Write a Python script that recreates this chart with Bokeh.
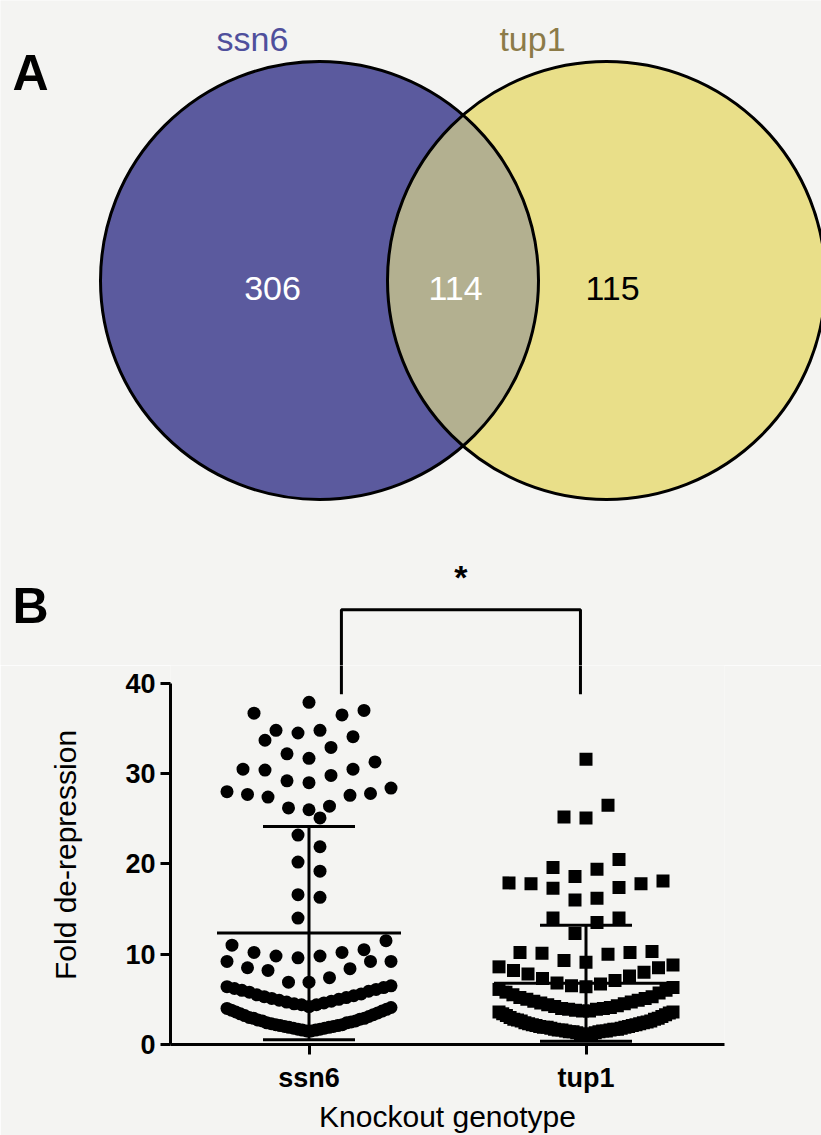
import numpy as np
from bokeh.plotting import figure
from bokeh.models import Range1d, Label, FixedTicker
from bokeh.embed import file_html
from bokeh.resources import INLINE

BG = "#f4f4f2"
FONT = "Liberation Sans"

# ---------------- data ----------------
venn_sets = ["ssn6", "tup1"]
venn_only_ssn6 = 306
venn_shared = 114
venn_only_tup1 = 115

genotypes = ["ssn6", "tup1"]
ssn6_fold = [37.9, 37.0, 36.7, 36.5, 34.8, 34.8, 34.5, 34.1, 33.7, 32.9, 32.2, 31.7,
             31.3, 30.5, 30.5, 30.4, 29.8, 29.2, 29.0, 28.4, 28.0, 27.8, 27.7, 27.6,
             27.4, 26.4, 26.2, 26.0, 25.1,
             23.2, 21.9, 20.2, 19.2, 16.6, 16.3, 14.0,
             11.5, 11.0, 10.5, 10.2, 10.2, 9.8, 9.8, 9.6, 9.2, 9.2, 9.2, 8.5, 8.4, 8.2,
             7.4, 6.9, 6.9,
             6.5, 6.4, 6.3, 6.2, 6.1, 6.0, 5.9, 5.8, 5.6, 5.5, 5.4, 5.3, 5.2, 5.1, 5.0,
             4.9, 4.8, 4.7, 4.6, 4.5, 4.4, 4.4,
             4.2, 4.1, 4.0, 3.9, 3.8, 3.7, 3.6, 3.5, 3.4, 3.3, 3.2, 3.1, 3.0, 2.9, 2.9,
             2.8, 2.7, 2.6, 2.6, 2.5, 2.4, 2.4, 2.3, 2.2, 2.2, 2.1, 2.1, 2.0, 2.0, 1.9,
             1.9, 1.8, 1.8, 1.7, 1.7, 1.6, 1.6, 1.5, 1.5]
tup1_fold = [31.6, 26.5, 25.2, 25.1, 20.5, 19.6, 19.4, 18.6, 18.1, 17.9, 17.8, 17.8,
             17.4, 17.3, 16.2, 16.0, 14.0, 14.0, 13.5, 12.3,
             10.3, 10.2, 10.2, 10.1, 10.0, 9.3, 9.1, 8.8, 8.6, 8.5, 8.2, 8.0,
             7.8, 7.6, 7.3, 7.1,
             6.8, 6.7, 6.5, 6.4, 6.3, 6.1, 6.0, 5.8, 5.7, 5.5, 5.3, 5.2,
             5.1, 5.0, 4.9, 4.8, 4.7, 4.6, 4.5, 4.4, 4.3, 4.2, 4.1, 4.0, 4.0, 3.9, 3.9,
             3.8, 3.7, 3.7, 3.6, 3.6,
             3.5, 3.4, 3.3, 3.2, 3.1, 3.0, 2.9, 2.8, 2.8, 2.7, 2.6, 2.6, 2.5, 2.4, 2.4,
             2.3, 2.3, 2.2, 2.2, 2.1, 2.1, 2.0, 2.0, 1.9, 1.9, 1.9, 1.8, 1.8, 1.7, 1.7,
             1.7, 1.6, 1.6, 1.6, 1.5, 1.5, 1.5, 1.4, 1.4, 1.4, 1.3, 1.3, 1.2, 1.2, 1.1,
             1.1]

# ---------------- page geometry (pixels) ----------------
TOP_H = 665                 # height of the upper (Venn) canvas
X0_PX, PX_PER_X = 170.0, 277.0   # scatter frame left edge and px per category step
Y0_PX, PX_PER_Y = 1047.0, 9.1    # scatter y=0 position and px per unit


def page_x(xd):
    return X0_PX + (xd - 0.5) * PX_PER_X


def page_y(yd):
    return Y0_PX - yd * PX_PER_Y


# ---------------- panel A : Venn ----------------
p1 = figure(width=821, height=TOP_H, x_range=Range1d(0, 821), y_range=Range1d(TOP_H, 0),
            toolbar_location=None, output_backend="svg", min_border=0)
p1.axis.visible = False
p1.grid.visible = False
p1.outline_line_color = None
p1.background_fill_color = BG
p1.border_fill_color = BG

R = 219
c1 = (319, 280)
c2 = (606, 280)
BLUE = "#5b5a9e"
YELLOW = "#e9df89"
LENS = "#b3b090"

p1.circle(x=[c1[0]], y=[c1[1]], radius=R, fill_color=BLUE, line_color=None)
p1.circle(x=[c2[0]], y=[c2[1]], radius=R, fill_color=YELLOW, line_color=None)
d = c2[0] - c1[0]
a = np.arccos((d / 2) / R)
t1 = np.linspace(-a, a, 120)
t2 = np.linspace(np.pi - a, np.pi + a, 120)
lx = np.concatenate([c1[0] + R * np.cos(t1), c2[0] + R * np.cos(t2)])
ly = np.concatenate([c1[1] + R * np.sin(t1), c2[1] + R * np.sin(t2)])
p1.patch(lx, ly, fill_color=LENS, line_color=None)
p1.circle(x=[c1[0], c2[0]], y=[c1[1], c2[1]], radius=R, fill_color=None,
          line_color="black", line_width=3)


def lab(p, x, y, text, size, color="black", bold=False):
    p.add_layout(Label(x=x, y=y, text=text, text_font=FONT, text_font_size=size,
                       text_color=color, text_font_style="bold" if bold else "normal",
                       text_align="center", text_baseline="middle"))


lab(p1, 30, 72, "A", "50px", bold=True)
lab(p1, 252, 38, venn_sets[0], "34px", color="#4f4f9c")
lab(p1, 532, 38, venn_sets[1], "34px", color="#8c7b48")
lab(p1, 272, 288, str(venn_only_ssn6), "34px", color="white")
lab(p1, 455, 288, str(venn_shared), "34px", color="white")
lab(p1, 612, 288, str(venn_only_tup1), "34px", color="black")

# panel B letter, significance star and bracket (upper part)
BR_L, BR_R = 1.117, 1.98        # bracket legs, in category units
BR_TOP, BR_FOOT = 48.1, 38.8    # bracket heights, in value units
lab(p1, 30, 605, "B", "50px", bold=True)
lab(p1, (page_x(BR_L) + page_x(BR_R)) / 2, 576, "*", "34px", bold=True)
p1.line(x=[page_x(BR_L), page_x(BR_L), page_x(BR_R), page_x(BR_R)],
        y=[TOP_H + 2, page_y(BR_TOP), page_y(BR_TOP), TOP_H + 2],
        line_color="black", line_width=3)

# ---------------- panel B : scatter ----------------
BOT_H = 1135 - TOP_H
YMAX = (Y0_PX - TOP_H) / PX_PER_Y
p2 = figure(width=821, height=BOT_H, x_range=Range1d(0.5, 2.5), y_range=Range1d(0, YMAX),
            toolbar_location=None, output_backend="svg",
            min_border_left=170, min_border_right=97, min_border_top=0,
            min_border_bottom=BOT_H - int(round(Y0_PX - TOP_H)))
p2.grid.visible = False
p2.outline_line_color = None
p2.background_fill_color = BG
p2.border_fill_color = BG

for ax in (p2.xaxis[0], p2.yaxis[0]):
    ax.axis_line_width = 3
    ax.major_tick_line_width = 3
    ax.major_tick_out = 10
    ax.major_tick_in = 0
    ax.minor_tick_out = 0
    ax.minor_tick_in = 0
    ax.major_label_text_font = FONT
    ax.major_label_text_font_style = "bold"
    ax.major_label_text_font_size = "27px"
    ax.major_label_text_color = "black"
    ax.axis_label_text_font = FONT
    ax.axis_label_text_font_style = "normal"
    ax.axis_label_text_font_size = "30px"
    ax.axis_label_text_color = "black"

p2.yaxis.bounds = (0, 40)
p2.yaxis.ticker = FixedTicker(ticks=[0, 10, 20, 30, 40])
p2.yaxis.axis_label = "Fold de-repression"
p2.yaxis.axis_label_standoff = 40
p2.yaxis.major_label_standoff = 5
p2.xaxis.ticker = FixedTicker(ticks=[i + 1 for i in range(len(genotypes))])
p2.xaxis.major_label_overrides = {i + 1: g for i, g in enumerate(genotypes)}
p2.xaxis.axis_label = "Knockout genotype"
p2.xaxis.axis_label_standoff = 4
p2.xaxis.major_label_standoff = 8


def swarm(vals, center, row_h=2.6, step_px=22.0, max_half_px=82.0):
    v = sorted(vals)
    rows, cur, start = [], [v[0]], v[0]
    for val in v[1:]:
        if val - start < row_h:
            cur.append(val)
        else:
            rows.append(cur)
            cur, start = [val], val
    rows.append(cur)
    xs, ys = [], []
    for row in rows:
        n = len(row)
        step = min(step_px, 2 * max_half_px / (n - 1)) if n > 1 else 0
        slots = [(i - (n - 1) / 2) * step for i in range(n)]
        order = sorted(slots, key=lambda s: (abs(s), s))
        for val, s in zip(row, order):
            xs.append(center + s / PX_PER_X)
            ys.append(val)
    return xs, ys


x1, y1 = swarm(ssn6_fold, 1, max_half_px=82)
x2, y2 = swarm(tup1_fold, 2, max_half_px=87)
p2.scatter(x1, y1, marker="circle", size=13, fill_color="black", line_color=None)
p2.scatter(x2, y2, marker="square", size=13, fill_color="black", line_color=None)

# mean +/- SD
for i, vals in enumerate([ssn6_fold, tup1_fold]):
    c = i + 1
    m = float(np.mean(vals))
    s = float(np.std(vals, ddof=1))
    mw = 92 / PX_PER_X
    cw = 46 / PX_PER_X
    p2.segment(x0=[c - mw, c - cw, c - cw, c], y0=[m, m + s, m - s, m - s],
               x1=[c + mw, c + cw, c + cw, c], y1=[m, m + s, m - s, m + s],
               line_color="black", line_width=3)

# bracket legs (lower part, inside the scatter canvas)
p2.segment(x0=[BR_L, BR_R], y0=[YMAX + 1, YMAX + 1], x1=[BR_L, BR_R], y1=[BR_FOOT, BR_FOOT],
           line_color="black", line_width=3)

html = file_html([p1, p2], INLINE)
html = html.replace("<body>", '<body style="margin:0;background:%s;">' % BG, 1)
open("out.html", "w").write(html)
